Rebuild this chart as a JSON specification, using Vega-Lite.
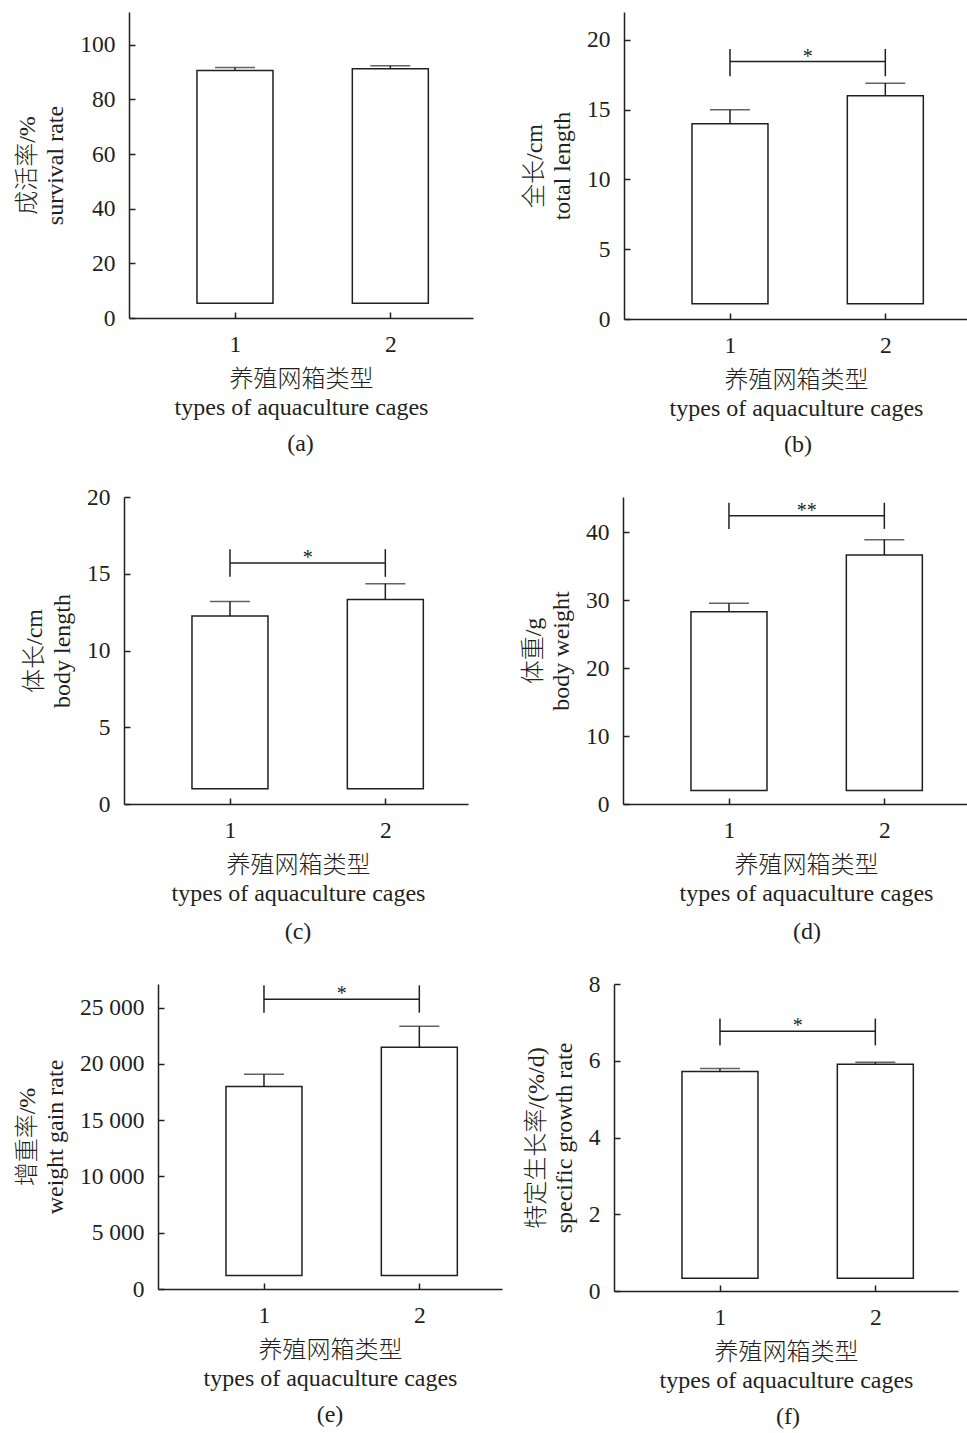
{
  "$schema": "https://vega.github.io/schema/vega-lite/v6.json",
  "padding": {"left": 15, "top": 12, "right": 0, "bottom": 5},
  "datasets": {
    "bars": [
      {"panel": "a", "group": 1, "mean": 90.6, "upper": 91.7, "base": 5.4},
      {"panel": "a", "group": 2, "mean": 91.2, "upper": 92.3, "base": 5.4},
      {"panel": "b", "group": 1, "mean": 14.0, "upper": 15.0, "base": 1.1},
      {"panel": "b", "group": 2, "mean": 16.0, "upper": 16.9, "base": 1.1},
      {"panel": "c", "group": 1, "mean": 12.24, "upper": 13.2, "base": 1.0},
      {"panel": "c", "group": 2, "mean": 13.33, "upper": 14.35, "base": 1.0},
      {"panel": "d", "group": 1, "mean": 28.3, "upper": 29.55, "base": 2.0},
      {"panel": "d", "group": 2, "mean": 36.66, "upper": 38.9, "base": 2.0},
      {"panel": "e", "group": 1, "mean": 18000, "upper": 19070, "base": 1200},
      {"panel": "e", "group": 2, "mean": 21470, "upper": 23340, "base": 1200},
      {"panel": "f", "group": 1, "mean": 5.72, "upper": 5.80, "base": 0.33},
      {"panel": "f", "group": 2, "mean": 5.91, "upper": 5.96, "base": 0.33}
    ],
    "sig": [
      {"panel": "b", "x1": 1, "x2": 2, "xmid": 1.5, "y": 18.45, "lo": 17.4, "hi": 19.35, "label": "*"},
      {"panel": "c", "x1": 1, "x2": 2, "xmid": 1.5, "y": 15.7, "lo": 14.8, "hi": 16.6, "label": "*"},
      {"panel": "d", "x1": 1, "x2": 2, "xmid": 1.5, "y": 42.45, "lo": 40.5, "hi": 44.35, "label": "**"},
      {"panel": "e", "x1": 1, "x2": 2, "xmid": 1.5, "y": 25740, "lo": 24550, "hi": 26980, "label": "*"},
      {"panel": "f", "x1": 1, "x2": 2, "xmid": 1.5, "y": 6.77, "lo": 6.4, "hi": 7.1, "label": "*"}
    ]
  },
  "config": {
    "view": {"stroke": null},
    "font": "Liberation Serif, Noto Sans CJK SC",
    "axis": {
      "grid": false,
      "domainColor": "#231f20",
      "domainWidth": 1.5,
      "tickColor": "#231f20",
      "tickWidth": 1.5,
      "tickSize": -6,
      "labelFont": "Liberation Serif, Noto Sans CJK SC",
      "labelFontSize": 23.5,
      "labelColor": "#231f20",
      "labelPadding": 20,
      "titleFont": "Liberation Serif, Noto Sans CJK SC",
      "titleFontSize": 24,
      "titleFontWeight": 300,
      "titleColor": "#231f20",
      "titleLineHeight": 28,
      "titlePadding": 12
    },
    "title": {"font": "Liberation Serif, Noto Sans CJK SC", "fontSize": 24, "fontWeight": "normal", "color": "#231f20"}
  },
  "columns": 1,
  "align": "none",
  "spacing": 28,
  "concat": [
    {
      "spacing": 49,
      "hconcat": [
        {
          "width": 349, "height": 306,
          "title": {"text": "(a)", "orient": "bottom", "offset": 12, "dx": 2},
          "layer": [
            {"data": {"name": "bars"}, "transform": [{"filter": "datum.panel === 'a'"}],
             "mark": {"type": "bar", "width": 76, "fill": "white", "stroke": "#231f20", "strokeWidth": 1.5},
             "encoding": {
               "x": {"field": "group", "type": "quantitative", "scale": {"domain": [0.35, 2.5], "range": [5, 349], "nice": false, "zero": false},
                     "axis": {"values": [1, 2], "format": "d", "title": ["养殖网箱类型", "types of aquaculture cages"]}},
               "y": {"field": "mean", "type": "quantitative", "scale": {"domain": [0, 112], "nice": false},
                     "axis": {"values": [0, 20, 40, 60, 80, 100], "offset": -5, "title": ["成活率/%", "survival rate"]}},
               "y2": {"field": "base"}}},
            {"data": {"name": "bars"}, "transform": [{"filter": "datum.panel === 'a'"}],
             "mark": {"type": "rule", "color": "#231f20", "strokeWidth": 1.5},
             "encoding": {"x": {"field": "group", "type": "quantitative"}, "y": {"field": "mean", "type": "quantitative"}, "y2": {"field": "upper"}}},
            {"data": {"name": "bars"}, "transform": [{"filter": "datum.panel === 'a'"}],
             "mark": {"type": "tick", "orient": "horizontal", "size": 40, "thickness": 1.5, "color": "#231f20"},
             "encoding": {"x": {"field": "group", "type": "quantitative"}, "y": {"field": "upper", "type": "quantitative"}}}
          ]
        },
        {
          "width": 344, "height": 307,
          "title": {"text": "(b)", "orient": "bottom", "offset": 12, "dx": 2},
          "layer": [
            {"data": {"name": "bars"}, "transform": [{"filter": "datum.panel === 'b'"}],
             "mark": {"type": "bar", "width": 76, "fill": "white", "stroke": "#231f20", "strokeWidth": 1.5},
             "encoding": {
               "x": {"field": "group", "type": "quantitative", "scale": {"domain": [0.35, 2.5], "nice": false, "zero": false},
                     "axis": {"values": [1, 2], "format": "d", "title": ["养殖网箱类型", "types of aquaculture cages"]}},
               "y": {"field": "mean", "type": "quantitative", "scale": {"domain": [0, 22], "nice": false},
                     "axis": {"values": [0, 5, 10, 15, 20], "title": ["全长/cm", "total length"]}},
               "y2": {"field": "base"}}},
            {"data": {"name": "bars"}, "transform": [{"filter": "datum.panel === 'b'"}],
             "mark": {"type": "rule", "color": "#231f20", "strokeWidth": 1.5},
             "encoding": {"x": {"field": "group", "type": "quantitative"}, "y": {"field": "mean", "type": "quantitative"}, "y2": {"field": "upper"}}},
            {"data": {"name": "bars"}, "transform": [{"filter": "datum.panel === 'b'"}],
             "mark": {"type": "tick", "orient": "horizontal", "size": 40, "thickness": 1.5, "color": "#231f20"},
             "encoding": {"x": {"field": "group", "type": "quantitative"}, "y": {"field": "upper", "type": "quantitative"}}},
            {"data": {"name": "sig"}, "transform": [{"filter": "datum.panel === 'b'"}],
             "mark": {"type": "rule", "color": "#231f20", "strokeWidth": 1.5},
             "encoding": {"x": {"field": "x1", "type": "quantitative"}, "x2": {"field": "x2"}, "y": {"field": "y", "type": "quantitative"}}},
            {"data": {"name": "sig"}, "transform": [{"filter": "datum.panel === 'b'"}],
             "mark": {"type": "rule", "color": "#231f20", "strokeWidth": 1.5},
             "encoding": {"x": {"field": "x1", "type": "quantitative"}, "y": {"field": "lo", "type": "quantitative"}, "y2": {"field": "hi"}}},
            {"data": {"name": "sig"}, "transform": [{"filter": "datum.panel === 'b'"}],
             "mark": {"type": "rule", "color": "#231f20", "strokeWidth": 1.5},
             "encoding": {"x": {"field": "x2", "type": "quantitative"}, "y": {"field": "lo", "type": "quantitative"}, "y2": {"field": "hi"}}},
            {"data": {"name": "sig"}, "transform": [{"filter": "datum.panel === 'b'"}],
             "mark": {"type": "text", "font": "Liberation Serif", "fontSize": 20, "color": "#231f20", "baseline": "alphabetic", "dy": 1},
             "encoding": {"x": {"field": "xmid", "type": "quantitative"}, "y": {"field": "y", "type": "quantitative"}, "text": {"field": "label"}}}
          ]
        }
      ]
    },
    {
      "spacing": 53,
      "hconcat": [
        {
          "width": 344, "height": 307,
          "title": {"text": "(c)", "orient": "bottom", "offset": 14, "dx": 2},
          "layer": [
            {"data": {"name": "bars"}, "transform": [{"filter": "datum.panel === 'c'"}],
             "mark": {"type": "bar", "width": 76, "fill": "white", "stroke": "#231f20", "strokeWidth": 1.5},
             "encoding": {
               "x": {"field": "group", "type": "quantitative", "scale": {"domain": [0.35, 2.5], "nice": false, "zero": false},
                     "axis": {"values": [1, 2], "format": "d", "titleX": 174, "title": ["养殖网箱类型", "types of aquaculture cages"]}},
               "y": {"field": "mean", "type": "quantitative", "scale": {"domain": [0, 20], "nice": false},
                     "axis": {"values": [0, 5, 10, 15, 20], "title": ["体长/cm", "body length"]}},
               "y2": {"field": "base"}}},
            {"data": {"name": "bars"}, "transform": [{"filter": "datum.panel === 'c'"}],
             "mark": {"type": "rule", "color": "#231f20", "strokeWidth": 1.5},
             "encoding": {"x": {"field": "group", "type": "quantitative"}, "y": {"field": "mean", "type": "quantitative"}, "y2": {"field": "upper"}}},
            {"data": {"name": "bars"}, "transform": [{"filter": "datum.panel === 'c'"}],
             "mark": {"type": "tick", "orient": "horizontal", "size": 40, "thickness": 1.5, "color": "#231f20"},
             "encoding": {"x": {"field": "group", "type": "quantitative"}, "y": {"field": "upper", "type": "quantitative"}}},
            {"data": {"name": "sig"}, "transform": [{"filter": "datum.panel === 'c'"}],
             "mark": {"type": "rule", "color": "#231f20", "strokeWidth": 1.5},
             "encoding": {"x": {"field": "x1", "type": "quantitative"}, "x2": {"field": "x2"}, "y": {"field": "y", "type": "quantitative"}}},
            {"data": {"name": "sig"}, "transform": [{"filter": "datum.panel === 'c'"}],
             "mark": {"type": "rule", "color": "#231f20", "strokeWidth": 1.5},
             "encoding": {"x": {"field": "x1", "type": "quantitative"}, "y": {"field": "lo", "type": "quantitative"}, "y2": {"field": "hi"}}},
            {"data": {"name": "sig"}, "transform": [{"filter": "datum.panel === 'c'"}],
             "mark": {"type": "rule", "color": "#231f20", "strokeWidth": 1.5},
             "encoding": {"x": {"field": "x2", "type": "quantitative"}, "y": {"field": "lo", "type": "quantitative"}, "y2": {"field": "hi"}}},
            {"data": {"name": "sig"}, "transform": [{"filter": "datum.panel === 'c'"}],
             "mark": {"type": "text", "font": "Liberation Serif", "fontSize": 20, "color": "#231f20", "baseline": "alphabetic", "dy": 1},
             "encoding": {"x": {"field": "xmid", "type": "quantitative"}, "y": {"field": "y", "type": "quantitative"}, "text": {"field": "label"}}}
          ]
        },
        {
          "width": 344, "height": 307,
          "title": {"text": "(d)", "orient": "bottom", "offset": 14, "dx": 12},
          "layer": [
            {"data": {"name": "bars"}, "transform": [{"filter": "datum.panel === 'd'"}],
             "mark": {"type": "bar", "width": 76, "fill": "white", "stroke": "#231f20", "strokeWidth": 1.5},
             "encoding": {
               "x": {"field": "group", "type": "quantitative", "scale": {"domain": [0.35, 2.5], "nice": false, "zero": false},
                     "axis": {"values": [1, 2], "format": "d", "titleX": 183, "title": ["养殖网箱类型", "types of aquaculture cages"]}},
               "y": {"field": "mean", "type": "quantitative", "scale": {"domain": [0, 45.2], "nice": false},
                     "axis": {"values": [0, 10, 20, 30, 40], "title": ["体重/g", "body weight"]}},
               "y2": {"field": "base"}}},
            {"data": {"name": "bars"}, "transform": [{"filter": "datum.panel === 'd'"}],
             "mark": {"type": "rule", "color": "#231f20", "strokeWidth": 1.5},
             "encoding": {"x": {"field": "group", "type": "quantitative"}, "y": {"field": "mean", "type": "quantitative"}, "y2": {"field": "upper"}}},
            {"data": {"name": "bars"}, "transform": [{"filter": "datum.panel === 'd'"}],
             "mark": {"type": "tick", "orient": "horizontal", "size": 40, "thickness": 1.5, "color": "#231f20"},
             "encoding": {"x": {"field": "group", "type": "quantitative"}, "y": {"field": "upper", "type": "quantitative"}}},
            {"data": {"name": "sig"}, "transform": [{"filter": "datum.panel === 'd'"}],
             "mark": {"type": "rule", "color": "#231f20", "strokeWidth": 1.5},
             "encoding": {"x": {"field": "x1", "type": "quantitative"}, "x2": {"field": "x2"}, "y": {"field": "y", "type": "quantitative"}}},
            {"data": {"name": "sig"}, "transform": [{"filter": "datum.panel === 'd'"}],
             "mark": {"type": "rule", "color": "#231f20", "strokeWidth": 1.5},
             "encoding": {"x": {"field": "x1", "type": "quantitative"}, "y": {"field": "lo", "type": "quantitative"}, "y2": {"field": "hi"}}},
            {"data": {"name": "sig"}, "transform": [{"filter": "datum.panel === 'd'"}],
             "mark": {"type": "rule", "color": "#231f20", "strokeWidth": 1.5},
             "encoding": {"x": {"field": "x2", "type": "quantitative"}, "y": {"field": "lo", "type": "quantitative"}, "y2": {"field": "hi"}}},
            {"data": {"name": "sig"}, "transform": [{"filter": "datum.panel === 'd'"}],
             "mark": {"type": "text", "font": "Liberation Serif", "fontSize": 20, "color": "#231f20", "baseline": "alphabetic", "dy": 1},
             "encoding": {"x": {"field": "xmid", "type": "quantitative"}, "y": {"field": "y", "type": "quantitative"}, "text": {"field": "label"}}}
          ]
        }
      ]
    },
    {
      "spacing": 22,
      "hconcat": [
        {
          "width": 378, "height": 305,
          "title": {"text": "(e)", "orient": "bottom", "offset": 12, "dx": 17},
          "layer": [
            {"data": {"name": "bars"}, "transform": [{"filter": "datum.panel === 'e'"}],
             "mark": {"type": "bar", "width": 76, "fill": "white", "stroke": "#231f20", "strokeWidth": 1.5},
             "encoding": {
               "x": {"field": "group", "type": "quantitative", "scale": {"domain": [0.35, 2.5], "range": [34, 378], "nice": false, "zero": false},
                     "axis": {"values": [1, 2], "format": "d", "title": ["养殖网箱类型", "types of aquaculture cages"]}},
               "y": {"field": "mean", "type": "quantitative", "scale": {"domain": [0, 27100], "nice": false},
                     "axis": {"values": [0, 5000, 10000, 15000, 20000, 25000], "offset": -34, "labelExpr": "replace(format(datum.value, ','), ',', ' ')", "title": ["增重率/%", "weight gain rate"]}},
               "y2": {"field": "base"}}},
            {"data": {"name": "bars"}, "transform": [{"filter": "datum.panel === 'e'"}],
             "mark": {"type": "rule", "color": "#231f20", "strokeWidth": 1.5},
             "encoding": {"x": {"field": "group", "type": "quantitative"}, "y": {"field": "mean", "type": "quantitative"}, "y2": {"field": "upper"}}},
            {"data": {"name": "bars"}, "transform": [{"filter": "datum.panel === 'e'"}],
             "mark": {"type": "tick", "orient": "horizontal", "size": 40, "thickness": 1.5, "color": "#231f20"},
             "encoding": {"x": {"field": "group", "type": "quantitative"}, "y": {"field": "upper", "type": "quantitative"}}},
            {"data": {"name": "sig"}, "transform": [{"filter": "datum.panel === 'e'"}],
             "mark": {"type": "rule", "color": "#231f20", "strokeWidth": 1.5},
             "encoding": {"x": {"field": "x1", "type": "quantitative"}, "x2": {"field": "x2"}, "y": {"field": "y", "type": "quantitative"}}},
            {"data": {"name": "sig"}, "transform": [{"filter": "datum.panel === 'e'"}],
             "mark": {"type": "rule", "color": "#231f20", "strokeWidth": 1.5},
             "encoding": {"x": {"field": "x1", "type": "quantitative"}, "y": {"field": "lo", "type": "quantitative"}, "y2": {"field": "hi"}}},
            {"data": {"name": "sig"}, "transform": [{"filter": "datum.panel === 'e'"}],
             "mark": {"type": "rule", "color": "#231f20", "strokeWidth": 1.5},
             "encoding": {"x": {"field": "x2", "type": "quantitative"}, "y": {"field": "lo", "type": "quantitative"}, "y2": {"field": "hi"}}},
            {"data": {"name": "sig"}, "transform": [{"filter": "datum.panel === 'e'"}],
             "mark": {"type": "text", "font": "Liberation Serif", "fontSize": 20, "color": "#231f20", "baseline": "alphabetic", "dy": 1},
             "encoding": {"x": {"field": "xmid", "type": "quantitative"}, "y": {"field": "y", "type": "quantitative"}, "text": {"field": "label"}}}
          ]
        },
        {
          "width": 344, "height": 307,
          "title": {"text": "(f)", "orient": "bottom", "offset": 12, "dx": 2},
          "layer": [
            {"data": {"name": "bars"}, "transform": [{"filter": "datum.panel === 'f'"}],
             "mark": {"type": "bar", "width": 76, "fill": "white", "stroke": "#231f20", "strokeWidth": 1.5},
             "encoding": {
               "x": {"field": "group", "type": "quantitative", "scale": {"domain": [0.35, 2.5], "nice": false, "zero": false},
                     "axis": {"values": [1, 2], "format": "d", "title": ["养殖网箱类型", "types of aquaculture cages"]}},
               "y": {"field": "mean", "type": "quantitative", "scale": {"domain": [0, 8], "nice": false},
                     "axis": {"values": [0, 2, 4, 6, 8], "title": ["特定生长率/(%/d)", "specific growth rate"]}},
               "y2": {"field": "base"}}},
            {"data": {"name": "bars"}, "transform": [{"filter": "datum.panel === 'f'"}],
             "mark": {"type": "rule", "color": "#231f20", "strokeWidth": 1.5},
             "encoding": {"x": {"field": "group", "type": "quantitative"}, "y": {"field": "mean", "type": "quantitative"}, "y2": {"field": "upper"}}},
            {"data": {"name": "bars"}, "transform": [{"filter": "datum.panel === 'f'"}],
             "mark": {"type": "tick", "orient": "horizontal", "size": 40, "thickness": 1.5, "color": "#231f20"},
             "encoding": {"x": {"field": "group", "type": "quantitative"}, "y": {"field": "upper", "type": "quantitative"}}},
            {"data": {"name": "sig"}, "transform": [{"filter": "datum.panel === 'f'"}],
             "mark": {"type": "rule", "color": "#231f20", "strokeWidth": 1.5},
             "encoding": {"x": {"field": "x1", "type": "quantitative"}, "x2": {"field": "x2"}, "y": {"field": "y", "type": "quantitative"}}},
            {"data": {"name": "sig"}, "transform": [{"filter": "datum.panel === 'f'"}],
             "mark": {"type": "rule", "color": "#231f20", "strokeWidth": 1.5},
             "encoding": {"x": {"field": "x1", "type": "quantitative"}, "y": {"field": "lo", "type": "quantitative"}, "y2": {"field": "hi"}}},
            {"data": {"name": "sig"}, "transform": [{"filter": "datum.panel === 'f'"}],
             "mark": {"type": "rule", "color": "#231f20", "strokeWidth": 1.5},
             "encoding": {"x": {"field": "x2", "type": "quantitative"}, "y": {"field": "lo", "type": "quantitative"}, "y2": {"field": "hi"}}},
            {"data": {"name": "sig"}, "transform": [{"filter": "datum.panel === 'f'"}],
             "mark": {"type": "text", "font": "Liberation Serif", "fontSize": 20, "color": "#231f20", "baseline": "alphabetic", "dy": 1},
             "encoding": {"x": {"field": "xmid", "type": "quantitative"}, "y": {"field": "y", "type": "quantitative"}, "text": {"field": "label"}}}
          ]
        }
      ]
    }
  ]
}
